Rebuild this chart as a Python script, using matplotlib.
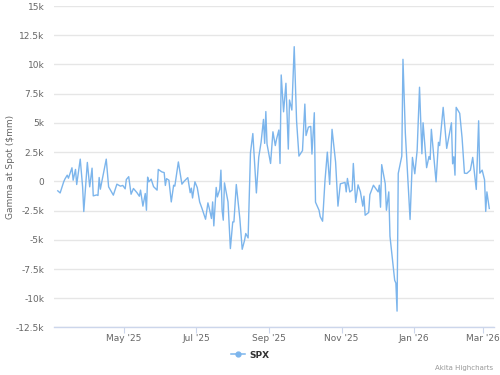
import numpy as np
import pandas as pd
import matplotlib
matplotlib.use("Agg")
import matplotlib.pyplot as plt
import matplotlib.dates as mdates
from matplotlib.lines import Line2D

# days counted from 2025-05-01
base_date = "2025-05-01"
day = [-56, -54, -51, -50, -48, -47, -44, -43, -41, -40, -37, -35, -34, -31, -29, -27, -26, -23, -22, -21,
       -20, -15, -13, -9, -6, -3, -1, 1, 2, 4, 6, 8, 11, 13, 14, 16, 18, 19, 20, 21,
       23, 25, 28, 29, 32, 34, 35, 36, 38, 40, 42, 43, 46, 49, 51, 54, 56, 57, 58, 60,
       62, 64, 66, 69, 71, 72, 74, 75, 76, 78, 79, 81, 82, 83, 84, 85, 88, 90, 92, 93,
       95, 98, 100, 102, 103, 105, 107, 109, 112, 114, 116, 118, 119, 120, 121, 124, 126, 128, 129, 131,
       132, 133, 135, 137, 139, 140, 142, 144, 146, 148, 151, 153, 154, 156, 158, 159, 161, 162, 165, 166,
       168, 170, 172, 174, 176, 179, 181, 183, 187, 188, 189, 191, 193, 194, 196, 198, 200, 202, 203, 204,
       207, 208, 211, 215, 216, 217, 218, 221, 222, 224, 225, 229, 230, 231, 232, 235, 236, 238, 242, 244,
       246, 248, 250, 252, 253, 256, 258, 259, 260, 264, 266, 267, 270, 273, 277, 278, 279, 280, 281, 284,
       286, 288, 290, 293, 295, 298, 300, 301, 303, 305, 306, 307, 309]

spx = [-810, -990, -40, 190, 530, 270, 1160, 100, 1020, -270, 1900, -470, -2580, 1620, -470, 1130, -1240, -1160, -1210, 330,
       -670, 1900, -470, -1180, -240, -410, -350, -640, 160, 400, -1100, -610, -970, -1270, -750, -2120, -1040, -2470, 360, -40,
       190, -450, -750, 1020, 810, 750, -350, 230, 100, -1760, -330, -410, 1660, -240, 20, 320, -970, -580, -1420, -40,
       -540, -1760, -2320, -3240, -1840, -2240, -3180, -1760, -3810, -520, -1330, -690, 960, -2470, -3320, -130, -1760, -5750, -3470, -3470,
       -270, -3180, -5810, -5040, -4460, -4840, 2440, 4090, -990, 2070, 3360, 5300, 3250, 5970, 3190, 1530, 4240, 3060, 3590, 4390,
       1530, 9100, 5950, 8390, 2760, 6960, 6100, 11520, 5160, 2160, 2630, 6610, 3920, 4640, 4700, 2330, 5870, -1780, -2470, -3020,
       -3410, 20, 2500, -260, 4450, 1650, -2120, -210, -90, -900, 250, -910, -750, 1530, -1800, -300, -900, -2120, -1270, -2900,
       -2660, -1140, -330, -900, -330, -2210, 1430, -200, -2470, -900, -4700, -8470, -8700, -11100, 680, 2160, 10440, 4130, -3260, 2050,
       650, 2670, 8050, 2360, 5010, 1170, 2120, 1880, 4450, -40, 3340, 3060, 6330, 2820, 5010, 1500, 2100, 530, 6330, 5820,
       3720, 700, 680, 960, 2050, -690, 5180, 700, 960, 130, -2570, -900, -2320]

yticks = np.arange(-12500, 15001, 2500)
ytick_labels = ["-12.5k", "-10k", "-7.5k", "-5k", "-2.5k", "0", "2.5k", "5k", "7.5k", "10k", "12.5k", "15k"]

dates = pd.Timestamp(base_date) + pd.to_timedelta(day, unit="D")

fig = plt.figure(figsize=(5, 3.75), dpi=100)
ax = fig.add_axes([0.108, 0.1267, 0.88, 0.8573])

ax.plot(dates, spx, color="#7cb5ec", lw=1.0, zorder=3)

ax.set_ylim(-12500, 15000)
ax.set_yticks(yticks)
ax.set_yticklabels(ytick_labels)
ax.set_xlim(pd.Timestamp(base_date) + pd.Timedelta(days=-59.2),
            pd.Timestamp(base_date) + pd.Timedelta(days=313))
ax.xaxis.set_major_locator(mdates.MonthLocator(bymonth=[1, 3, 5, 7, 9, 11]))
ax.xaxis.set_major_formatter(mdates.DateFormatter("%b '%y"))

ax.grid(axis="y", color="#e6e6e6", lw=1)
ax.set_axisbelow(True)
for s in ["top", "right", "left"]:
    ax.spines[s].set_visible(False)
ax.spines["bottom"].set_color("#ccd6eb")
ax.spines["bottom"].set_linewidth(1)

ax.tick_params(axis="y", length=0, labelsize=6.5, labelcolor="#666666", pad=7)
ax.tick_params(axis="x", length=4, color="#ccd6eb", labelsize=6.5, labelcolor="#666666", pad=1)

ax.set_ylabel("Gamma at Spot ($mm)", fontsize=6.5, color="#666666")
ax.yaxis.set_label_coords(-0.089, 0.5)

handle = Line2D([], [], color="#7cb5ec", lw=1.1, marker="o", markersize=3.5)
leg = fig.legend([handle], ["SPX"], loc="center", bbox_to_anchor=(0.5, 1 - 355 / 375),
                 frameon=False, fontsize=6.5, handlelength=1.6, handletextpad=0.4)
for t in leg.get_texts():
    t.set_fontweight("bold")
    t.set_color("#333333")

fig.text(0.986, 1 - 368 / 375, "Akita Highcharts", ha="right", va="center", fontsize=5, color="#999999")

plt.savefig("out.png", dpi=100)
